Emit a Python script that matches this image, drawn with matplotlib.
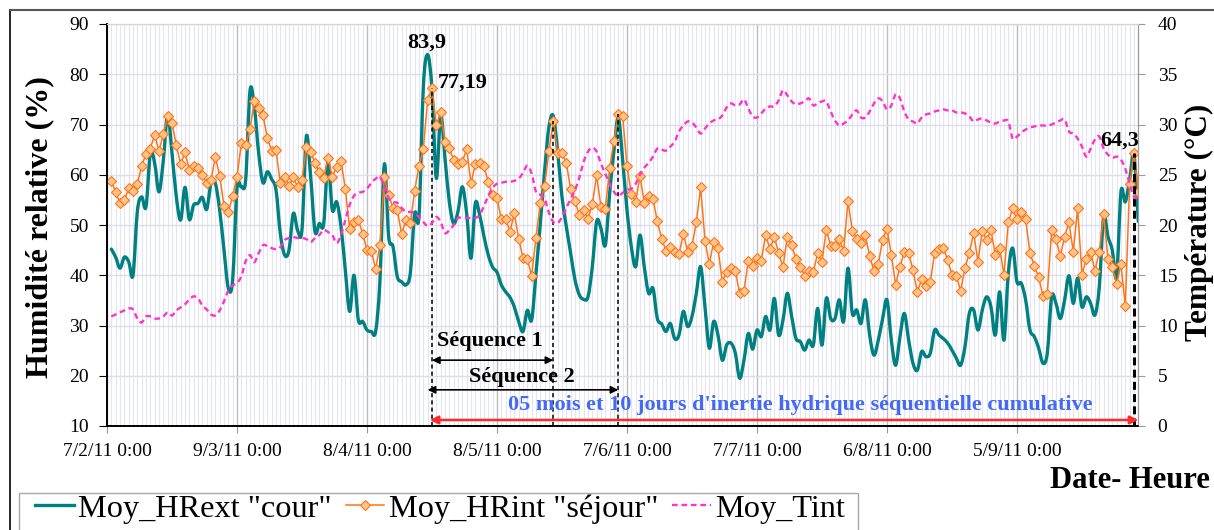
import numpy as np
import pandas as pd
import matplotlib
matplotlib.use("Agg")
import matplotlib.pyplot as plt
import matplotlib.dates as mdates
from matplotlib.lines import Line2D
from matplotlib.path import Path
from matplotlib.patches import PathPatch, Rectangle

plt.rcParams['font.family'] = ['Liberation Serif', 'DejaVu Serif']

# Daily means, 8 Feb 2011 onward
first_day = "2011-02-08"

hr_ext = [
    45.2, 43.6, 41.4, 43.6, 42.7, 40.0, 52.7, 55.6, 53.6, 64.3,
    62.3, 56.6, 62.9, 72.1, 64.3, 55.6, 51.0, 57.5, 51.1, 54.0,
    54.3, 55.5, 53.1, 58.3, 58.3, 53.0, 45.0, 37.4, 39.1, 57.3,
    57.6, 59.0, 76.7, 73.5, 64.3, 58.4, 60.6, 59.1, 57.0, 48.3,
    44.0, 45.0, 52.3, 48.9, 49.1, 67.6, 59.6, 48.7, 50.3, 50.2,
    62.6, 53.0, 54.6, 49.7, 41.0, 32.8, 40.0, 31.1, 30.8, 29.1,
    28.8, 28.8, 39.1, 62.1, 47.7, 45.7, 39.7, 38.7, 38.1, 40.4,
    52.3, 51.7, 77.5, 83.9, 77.0, 59.3, 71.9, 63.3, 54.6, 50.3,
    52.7, 57.6, 52.3, 43.4, 54.3, 52.0, 47.7, 44.0, 41.6, 40.6,
    38.1, 36.7, 35.6, 33.7, 30.8, 28.8, 33.0, 31.1, 40.4, 50.3,
    60.9, 69.6, 71.7, 64.6, 55.6, 49.7, 44.4, 39.1, 36.1, 35.2,
    35.7, 41.7, 50.7, 49.3, 46.0, 56.3, 64.9, 71.4, 62.9, 53.0,
    45.7, 41.7, 48.0, 41.6, 36.4, 37.4, 31.4, 30.3, 28.8, 30.4,
    27.4, 28.1, 32.8, 29.8, 31.8, 36.4, 41.7, 33.7, 25.5, 30.8,
    28.1, 23.1, 26.1, 26.5, 24.5, 19.5, 23.1, 28.4, 25.3, 29.1,
    27.8, 31.8, 29.1, 35.4, 28.1, 31.1, 36.4, 31.8, 27.4, 26.8,
    25.1, 27.1, 26.1, 33.4, 26.1, 35.4, 31.4, 31.4, 35.1, 30.8,
    41.4, 32.4, 33.1, 30.4, 35.1, 28.1, 24.1, 27.1, 31.4, 35.1,
    27.1, 22.1, 27.8, 32.4, 27.1, 22.5, 21.1, 24.8, 23.8, 24.5,
    29.1, 28.1, 27.4, 26.5, 25.1, 23.5, 22.1, 25.8, 32.4, 33.1,
    29.1, 33.1, 35.7, 33.7, 28.1, 36.7, 27.1, 40.4, 45.4, 38.7,
    38.4, 35.1, 29.1, 27.8, 25.5, 22.5, 24.5, 35.7, 34.4, 31.4,
    35.1, 39.9, 34.4, 39.4, 33.7, 35.7, 34.4, 32.1, 37.7, 51.7,
    47.7, 45.0, 39.7, 56.6, 54.6, 59.0, 63.9, 50.7,
]

hr_int = [
    58.8, 56.5, 54.4, 54.9, 57.3, 56.8, 58.1, 61.8, 64.1, 65.2,
    68.0, 64.7, 68.1, 71.6, 70.2, 65.9, 62.1, 64.5, 60.9, 61.8,
    61.4, 60.0, 58.3, 58.9, 63.6, 59.8, 53.8, 52.5, 55.8, 59.5,
    66.3, 65.9, 69.1, 74.6, 73.3, 71.8, 67.3, 64.8, 64.9, 58.3,
    59.6, 57.8, 59.5, 57.5, 59.0, 65.5, 64.6, 62.3, 60.5, 59.3,
    63.3, 59.6, 61.6, 62.8, 57.2, 49.3, 50.5, 51.0, 48.3, 45.0,
    44.9, 41.2, 46.0, 59.5, 56.0, 53.4, 52.9, 48.2, 51.0, 50.3,
    56.8, 61.8, 65.1, 74.9, 77.19, 69.9, 72.4, 66.6, 65.3, 62.9,
    62.1, 62.6, 65.1, 58.3, 62.1, 62.4, 61.7, 58.5, 56.0, 55.4,
    51.1, 51.1, 48.7, 52.3, 47.3, 43.4, 43.2, 39.9, 47.5, 54.4,
    57.8, 64.8, 70.7, 64.3, 64.3, 62.4, 57.1, 54.8, 51.9, 53.0,
    51.2, 54.1, 59.9, 53.5, 53.1, 61.3, 66.8, 72.0, 71.6, 61.8,
    56.2, 54.6, 59.8, 54.3, 55.8, 55.2, 50.7, 47.3, 44.9, 45.7,
    44.6, 44.2, 48.3, 44.7, 45.8, 50.5, 57.5, 46.9, 42.2, 46.7,
    45.4, 38.7, 40.6, 41.5, 40.9, 36.4, 36.9, 42.9, 41.9, 43.5,
    42.9, 48.1, 45.2, 47.7, 44.4, 41.6, 47.7, 46.0, 43.2, 41.7,
    39.9, 40.9, 40.6, 44.4, 42.7, 49.1, 45.9, 45.9, 47.2, 44.8,
    54.8, 48.9, 47.3, 46.4, 48.0, 43.8, 40.9, 42.2, 47.1, 49.3,
    44.1, 38.1, 41.7, 44.7, 44.4, 41.0, 36.7, 39.2, 37.9, 38.6,
    44.5, 45.2, 45.5, 43.0, 40.1, 39.9, 36.9, 41.4, 44.4, 48.4,
    42.7, 48.9, 47.0, 49.0, 44.0, 45.4, 40.1, 50.5, 53.3, 51.1,
    52.5, 51.2, 44.4, 41.9, 39.6, 35.9, 36.3, 49.1, 47.2, 43.8,
    47.7, 50.5, 44.7, 53.3, 40.1, 43.2, 44.7, 40.9, 44.7, 52.1,
    43.2, 41.7, 38.2, 42.2, 33.9, 58.2, 64.3, 56.6,
]

t_int = [
    10.9, 11.1, 11.3, 11.5, 11.7, 11.6, 10.7, 10.3, 10.9, 10.9,
    10.7, 10.7, 10.9, 11.3, 11.0, 11.5, 11.8, 12.1, 12.6, 12.9,
    12.7, 12.0, 11.6, 11.1, 11.0, 11.5, 12.4, 13.5, 14.0, 14.2,
    14.9, 16.4, 17.0, 16.3, 17.2, 18.0, 17.9, 17.7, 17.6, 17.8,
    18.5, 18.7, 18.8, 18.7, 18.7, 18.6, 18.3, 18.7, 19.0, 19.5,
    19.3, 19.0, 18.2, 19.0, 20.5, 22.0, 22.9, 23.2, 23.3, 23.6,
    24.2, 24.6, 24.8, 23.8, 22.7, 22.3, 22.2, 21.7, 21.3, 21.3,
    21.2, 20.8, 20.3, 19.9, 20.2, 20.8, 20.3, 19.2, 19.5, 20.0,
    20.7, 20.7, 20.7, 20.7, 20.7, 21.0, 21.9, 22.9, 23.7, 24.1,
    24.2, 24.3, 24.3, 24.4, 24.6, 25.2, 25.9, 25.1, 23.3, 23.0,
    22.6, 21.2, 20.3, 20.2, 20.8, 21.7, 22.6, 23.5, 24.7, 26.3,
    27.3, 27.7, 27.3, 26.1, 25.1, 24.1, 23.3, 22.9, 23.2, 23.5,
    23.6, 24.1, 25.0, 25.7, 26.2, 26.8, 27.6, 27.5, 27.4, 27.8,
    28.3, 29.3, 29.9, 30.3, 30.2, 29.7, 29.1, 29.6, 30.1, 30.4,
    30.5, 30.9, 31.7, 32.1, 31.9, 32.0, 32.5, 31.6, 30.8, 30.7,
    31.1, 31.6, 31.8, 31.8, 32.4, 33.4, 32.9, 32.3, 32.0, 32.1,
    32.3, 32.6, 31.9, 32.1, 32.3, 32.3, 31.3, 30.4, 29.9, 30.1,
    30.4, 31.0, 31.4, 30.7, 30.7, 31.3, 32.1, 32.6, 32.3, 31.5,
    31.9, 33.0, 32.6, 31.3, 30.5, 30.3, 30.1, 30.7, 31.0, 31.1,
    31.3, 31.4, 31.5, 31.4, 31.4, 31.2, 31.2, 31.1, 30.8, 30.3,
    30.5, 30.6, 30.4, 30.2, 30.1, 30.3, 30.4, 30.3, 28.6, 28.8,
    29.2, 29.5, 29.7, 29.8, 29.9, 29.9, 29.9, 30.0, 30.2, 30.4,
    30.5, 29.3, 29.1, 28.6, 27.8, 26.8, 27.6, 28.5, 28.8, 27.6,
    27.0, 26.7, 26.8, 26.5, 25.6, 24.1, 22.8, 22.7,
]

tick_labels = ["7/2/11 0:00", "9/3/11 0:00", "8/4/11 0:00", "8/5/11 0:00",
               "7/6/11 0:00", "7/7/11 0:00", "6/8/11 0:00", "5/9/11 0:00"]
series_names = ['Moy_HRext "cour"', 'Moy_HRint "séjour"', 'Moy_Tint']

# Sequence markers (row index in the daily series)
seq_start = 74      # 77,19 peak of indoor humidity
seq1_end = 102
seq2_end = 117
cumul_end = 236     # last indoor peak, 64,3

dates = pd.date_range(first_day, periods=len(hr_int), freq="D")
tick_dates = pd.date_range("2011-02-07", periods=len(tick_labels), freq="30D")
x0 = pd.Timestamp("2011-02-07")
x1 = dates[-1]
xnum = mdates.date2num(dates)


def smooth_path(x, y):
    """Cardinal-spline path through every point (spreadsheet 'smoothed line')."""
    p = np.column_stack([x, y])
    ext = np.vstack([p[0], p, p[-1]])
    verts = [p[0]]
    codes = [Path.MOVETO]
    for i in range(len(p) - 1):
        a, b, c, d = ext[i], ext[i + 1], ext[i + 2], ext[i + 3]
        verts += [b + (c - a) / 6.0, c - (d - b) / 6.0, c]
        codes += [Path.CURVE4] * 3
    return Path(np.array(verts), codes)


W, H = 1214, 530
fig = plt.figure(figsize=(W / 100, H / 100), dpi=100)
ax = fig.add_axes([107 / W, 1 - 426 / H, (1138.3 - 107) / W, (426 - 24) / H])
ax2 = ax.twinx()

TEAL = "#008080"
ORANGE = "#ff7415"
ORANGE_FILL = "#ffc48a"
PINK = "#ff33cc"

# grids
ax.set_axisbelow(True)
ax.xaxis.set_minor_locator(mdates.DayLocator())
ax.grid(axis='x', which='minor', color='#e4e4f7', lw=0.8)
ax.grid(axis='x', which='major', color='#bdbdbd', lw=1.0)
ax.grid(axis='y', which='major', color='#dedee8', lw=1.0)

ax.add_patch(PathPatch(smooth_path(xnum, hr_ext), fill=False, ec=TEAL, lw=2.4,
                       joinstyle='round', capstyle='round', zorder=3))
ax.plot(dates, hr_int, color=ORANGE, lw=1.1, marker='D', ms=5.2,
        mfc=ORANGE_FILL, mec=ORANGE, mew=0.8, zorder=4)
ax2.add_patch(PathPatch(smooth_path(xnum, t_int), fill=False, ec=PINK, lw=1.7,
                        ls=(0, (2.4, 1.6)), zorder=2))

ax.set_xlim(x0, x1)
ax.set_ylim(10, 90)
ax.set_yticks(range(10, 91, 10))
ax2.set_ylim(0, 40)
ax2.set_yticks(range(0, 41, 5))
ax.set_xticks(tick_dates)
ax.set_xticklabels(tick_labels)

ax.tick_params(axis='x', which='major', length=5, color='#9a9a9a', pad=7, labelsize=14)
ax.tick_params(axis='x', which='minor', length=0)
ax.tick_params(axis='y', length=6, color='black', pad=7, labelsize=14)
ax2.tick_params(axis='y', length=5, color='#9a9a9a', pad=9, labelsize=14)

for a in (ax, ax2):
    a.spines['left'].set_color('black')
    a.spines['left'].set_linewidth(1.2)
    a.spines['bottom'].set_color('black')
    a.spines['bottom'].set_linewidth(1.2)
    a.spines['top'].set_color('#d4d4d4')
    a.spines['right'].set_color('#9a9a9a')

# sequence annotations
dash_thin = dict(color='black', lw=1.1, dashes=(2.7, 2.0), zorder=5)
for idx in (seq_start, seq1_end, seq2_end):
    ax.plot([dates[idx], dates[idx]], [10, hr_int[idx]], **dash_thin)
ax.plot([dates[cumul_end], dates[cumul_end]], [10, hr_int[cumul_end]],
        color='black', lw=2.2, dashes=(2.6, 1.4), zorder=5)

arrow_k = dict(arrowstyle='<|-|>', color='black', lw=1.2, mutation_scale=11,
               shrinkA=0, shrinkB=0)
ax.annotate('', xy=(dates[seq1_end], 23.1), xytext=(dates[seq_start], 23.1),
            arrowprops=arrow_k, zorder=6)
ax.annotate('', xy=(dates[seq2_end], 17.2),
            xytext=(dates[seq_start] - pd.Timedelta(days=1), 17.2),
            arrowprops=arrow_k, zorder=6)
ax.annotate('', xy=(x1, 11.2), xytext=(dates[seq_start] - pd.Timedelta(days=0.5), 11.2),
            arrowprops=dict(arrowstyle='<|-|>', color='#ff2a2a', lw=1.8,
                            mutation_scale=12, shrinkA=0, shrinkB=0), zorder=6)

fig.text(490 / W, 1 - 341 / H, "Séquence 1", fontsize=16, fontweight='bold',
         ha='center', va='center')
fig.text(522 / W, 1 - 377 / H, "Séquence 2", fontsize=16, fontweight='bold',
         ha='center', va='center')
fig.text(800 / W, 1 - 405 / H,
         "05 mois et 10 jours d'inertie hydrique séquentielle cumulative",
         fontsize=16, fontweight='bold', color='#4469f5', ha='center', va='center')

# value labels
peak_ext = hr_ext.index(max(hr_ext))
ax.annotate("83,9", xy=(dates[peak_ext], hr_ext[peak_ext]), xytext=(-1, 9),
            textcoords='offset points', ha='center', va='center',
            fontsize=16, fontweight='bold', zorder=7)
ax.annotate("77,19", xy=(dates[seq_start], hr_int[seq_start]), xytext=(22, 4.5),
            textcoords='offset points', ha='center', va='center',
            fontsize=16, fontweight='bold', zorder=7)
ax.annotate("64,3", xy=(dates[cumul_end], hr_int[cumul_end]), xytext=(-10, 9),
            textcoords='offset points', ha='center', va='center',
            fontsize=16, fontweight='bold', zorder=7)

# axis titles
fig.text(40 / W, 1 - 227 / H, "Humidité relative (%)", rotation=90, fontsize=23,
         fontweight='bold', ha='center', va='center')
fig.text(1199 / W, 1 - 222 / H, "Température (°C)", rotation=90, fontsize=22.5,
         fontweight='bold', ha='center', va='center')
fig.text(1210 / W, 1 - 481 / H, "Date- Heure", fontsize=22, fontweight='bold',
         ha='right', va='center')

# legend: box drawn separately so its inner margins can differ per side
fig.add_artist(Rectangle((18.5 / W, -0.05), (858 - 18.5) / W, 0.05 + (530 - 492.5) / H,
                         transform=fig.transFigure, fill=False, ec='#a8a8a8', lw=1.0))
handles = [
    Line2D([], [], color=TEAL, lw=2.4),
    Line2D([], [], color=ORANGE, lw=1.1, marker='D', ms=5.2, mfc=ORANGE_FILL,
           mec=ORANGE, mew=0.8),
    Line2D([], [], color=PINK, lw=1.7, dashes=(2.4, 1.6)),
]
fig.legend(handles, series_names, loc='upper left',
           bbox_to_anchor=(35 / W, 1 - 494 / H), ncol=3, fontsize=23.2,
           frameon=False, handlelength=1.2, handletextpad=0.15,
           columnspacing=0.42, borderpad=0, borderaxespad=0)

# outer chart border
fig.add_artist(Line2D([9.5 / W, 9.5 / W], [0, 1 - 9.5 / H], color='black', lw=1.2,
                      transform=fig.transFigure))
fig.add_artist(Line2D([9.5 / W, 1], [1 - 9.5 / H, 1 - 9.5 / H], color='#555555', lw=1.5,
                      transform=fig.transFigure))

fig.savefig("out.png", dpi=100)
